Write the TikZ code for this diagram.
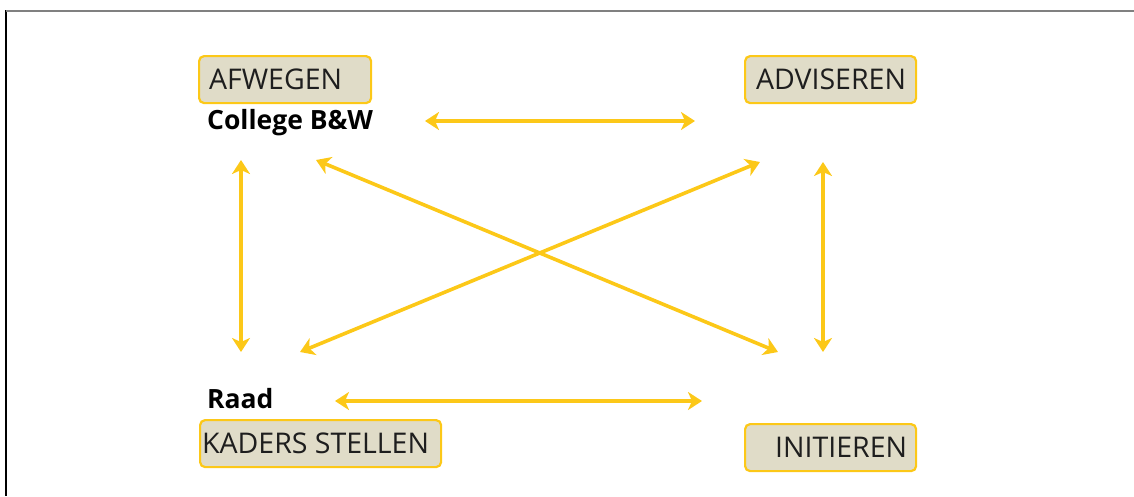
\documentclass[tikz,border=0pt]{standalone}
\usepackage{fontspec}
\setmainfont{Open Sans}
\usetikzlibrary{arrows.meta}
\definecolor{gold}{RGB}{252,200,24}
\definecolor{beige}{RGB}{224,220,200}
\definecolor{txt}{RGB}{30,30,30}
\begin{document}
\begin{tikzpicture}[x=1pt,y=-1pt,
  box/.style={draw=gold, fill=beige, rounded corners=5pt, line width=2.2pt,
    minimum height=47pt, inner xsep=0pt, inner ysep=0pt, anchor=north west,
    font=\fontsize{28.5}{30}\selectfont, text=txt},
  who/.style={font=\fontsize{26.5}{29}\selectfont\bfseries, anchor=base west, inner sep=0pt, text=black},
  link/.style={draw=gold, line width=3.6pt, {Stealth[length=14pt,width=18pt,inset=4pt]}-{Stealth[length=14pt,width=18pt,inset=4pt]}}]
\useasboundingbox (0,0) rectangle (1134,496);
% frame
\draw[black, line width=2pt] (6,10) -- (6,496);
\draw[gray, line width=2pt] (6,11) -- (1134,11);
% boxes
\node[box] (afwegen) at (198,55) {\hbox to 172pt{\hspace{10pt}AFWEGEN\hfill}};
\node[box] (adviseren) at (744,55) {\hbox to 171pt{\hspace{11pt}ADVISEREN\hfill}};
\node[box] (kaders) at (199,419) {\hbox to 241pt{\hspace{2pt}KADERS STELLEN\hfill}};
\node[box] (initieren) at (744,423) {\hbox to 171pt{\hfill INITIEREN\hspace{9pt}}};
% labels
\node[who] (college) at (207,129) {College B\&W};
\node[who] (raad) at (207,408) {Raad};
% arrow end points
\coordinate (t1) at (425,121); \coordinate (t2) at (695,121);
\coordinate (b1) at (335,401); \coordinate (b2) at (702,401);
\coordinate (l1) at (241,160); \coordinate (l2) at (241,352);
\coordinate (r1) at (823,162); \coordinate (r2) at (823,352);
\coordinate (d1) at (316,160); \coordinate (d2) at (778,352);
\coordinate (e1) at (760,162); \coordinate (e2) at (300,352);
\draw[link] (t1) -- (t2);
\draw[link] (b1) -- (b2);
\draw[link] (l1) -- (l2);
\draw[link] (r1) -- (r2);
\draw[link] (d1) -- (d2);
\draw[link] (e1) -- (e2);
\end{tikzpicture}
\end{document}
